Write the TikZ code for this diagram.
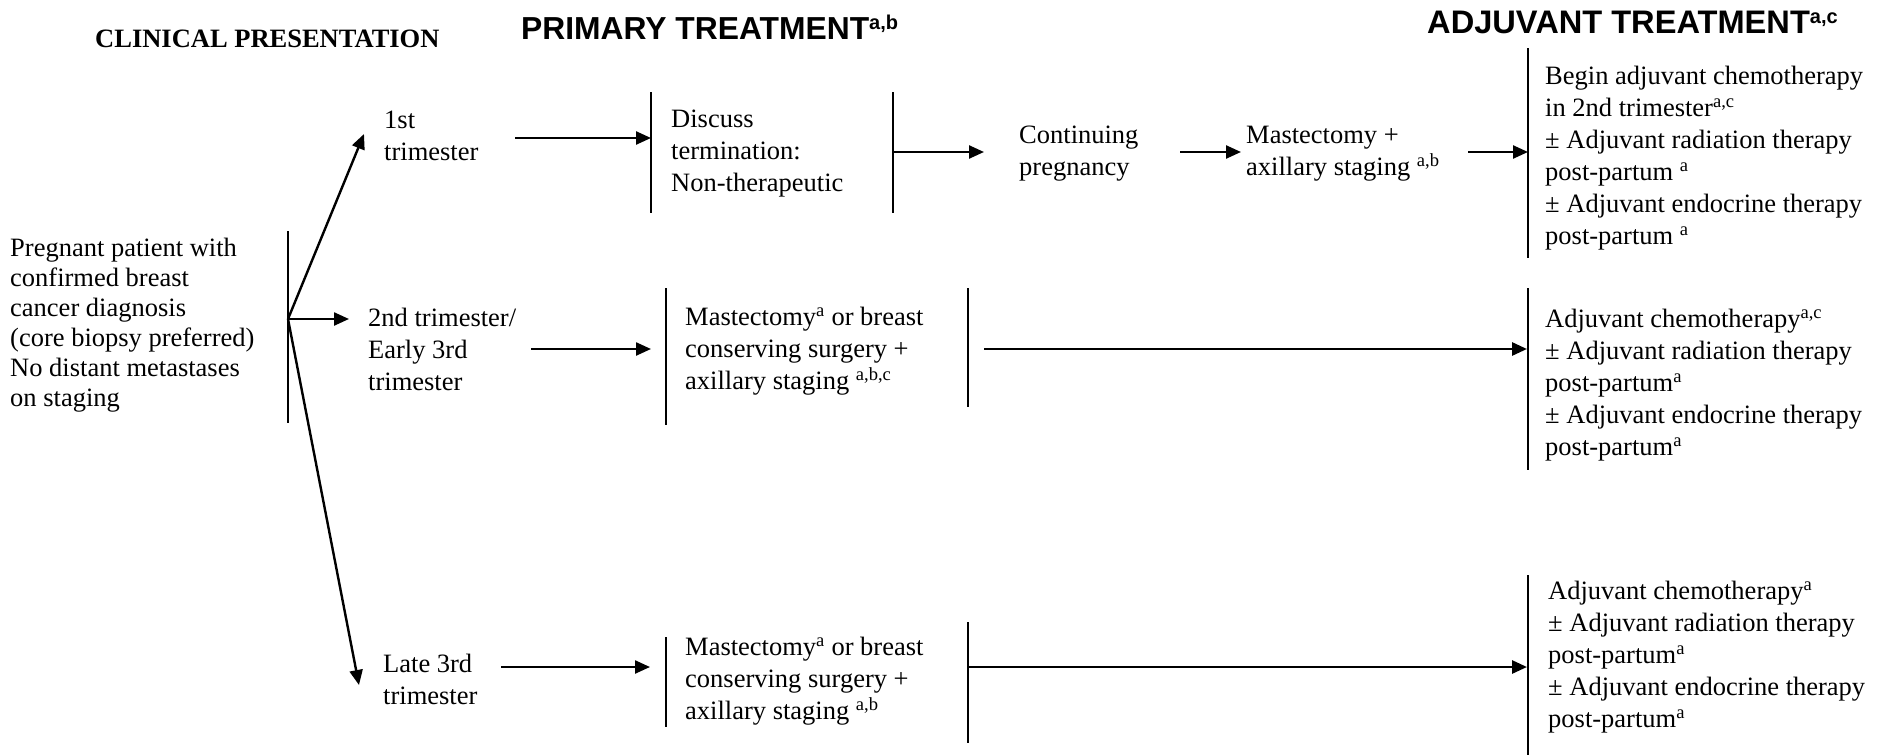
\documentclass[tikz,border=0pt]{standalone}
\usepackage{fontspec}
\setmainfont{Liberation Serif}
\newfontfamily\headsans{Liberation Sans}
\usetikzlibrary{arrows.meta}
\tikzset{
  body/.style={font=\fontsize{26.5}{32}\selectfont, align=left, inner sep=0pt, anchor=west},
  bodytight/.style={font=\fontsize{26.5}{30}\selectfont, align=left, inner sep=0pt, anchor=west},
  headserif/.style={inner sep=0pt, anchor=base west, font=\fontsize{26.5}{32}\selectfont\bfseries},
  headsf/.style={inner sep=0pt, anchor=base west},
  bar/.style={line width=1.3pt},
  arr/.style={line width=2.4pt, -{Triangle[length=15pt,width=13pt]}},
  longarr/.style={line width=2.8pt, -{Triangle[length=15pt,width=13pt]}},
}
\newcommand\hsup[1]{\raisebox{9.5pt}{\fontsize{20}{20}\selectfont #1}}
\begin{document}
\begin{tikzpicture}[x=1pt,y=-1pt]
\useasboundingbox (0,0) rectangle (1879,755);

% headings
\node[headserif] (hclin) at (95,47) {CLINICAL PRESENTATION};
\node[headsf, font=\headsans\bfseries\fontsize{31.8}{36}\selectfont] (hprim) at (521,39) {PRIMARY TREATMENT\hsup{a,b}};
\node[headsf, font=\headsans\bfseries\fontsize{32.6}{36}\selectfont] (hadj) at (1427,33) {ADJUVANT TREATMENT\hsup{a,c}};

% clinical presentation
\node[bodytight] (pres) at (10,325) {Pregnant patient with\\confirmed breast\\cancer diagnosis\\(core biopsy preferred)\\No distant metastases\\on staging};
\coordinate (pbt) at (288,231);
\coordinate (pbb) at (288,423);
\coordinate (br) at (288,319);
\draw[bar] (pbt) -- (pbb);

% trimesters
\node[body] (t1) at (384,136) {1st\\trimester};
\node[body] (t2) at (368,349) {2nd trimester/\\Early 3rd\\trimester};
\node[body] (t3) at (383,679) {Late 3rd\\trimester};
\coordinate (t1in) at (364,134);
\coordinate (t2in) at (349,319);
\coordinate (t3in) at (359,685);
\draw[arr] (br) -- (t1in);
\draw[arr] (br) -- (t2in);
\draw[arr] (br) -- (t3in);

% ---- row 1
\coordinate (r1a) at (515,138);
\coordinate (r1b) at (651,138);
\draw[arr] (r1a) -- (r1b);
\coordinate (d1t) at (651,92);
\coordinate (d1b) at (651,213);
\draw[bar] (d1t) -- (d1b);
\node[body] (disc) at (671,154) {Discuss\\termination:\\Non-therapeutic};
\coordinate (d2t) at (893,92);
\coordinate (d2b) at (893,213);
\draw[bar] (d2t) -- (d2b);
\coordinate (r1c) at (893,152);
\coordinate (r1d) at (984,152);
\draw[arr] (r1c) -- (r1d);
\node[body] (cont) at (1019,154) {Continuing\\pregnancy};
\coordinate (r1e) at (1180,152);
\coordinate (r1f) at (1241,152);
\draw[arr] (r1e) -- (r1f);
\node[body] (mast1) at (1246,154) {Mastectomy +\\axillary staging \textsuperscript{a,b}};
\coordinate (r1g) at (1468,152);
\coordinate (r1h) at (1528,152);
\draw[arr] (r1g) -- (r1h);
\coordinate (a1t) at (1528,48);
\coordinate (a1b) at (1528,258);
\draw[bar] (a1t) -- (a1b);
\node[body] (adj1) at (1545,158) {Begin adjuvant chemotherapy\\in 2nd trimester\textsuperscript{a,c}\\± Adjuvant radiation therapy\\post-partum \textsuperscript{a}\\± Adjuvant endocrine therapy\\post-partum \textsuperscript{a}};

% ---- row 2
\coordinate (r2a) at (531,349);
\coordinate (r2b) at (651,349);
\draw[arr] (r2a) -- (r2b);
\coordinate (m2t) at (666,288);
\coordinate (m2b) at (666,425);
\draw[bar] (m2t) -- (m2b);
\node[body] (mast2) at (685,351.5) {Mastectomy\textsuperscript{a} or breast\\conserving surgery +\\axillary staging \textsuperscript{a,b,c}};
\coordinate (m2rt) at (968,288);
\coordinate (m2rb) at (968,407);
\draw[bar] (m2rt) -- (m2rb);
\coordinate (r2c) at (984,349);
\coordinate (r2d) at (1527,349);
\draw[longarr] (r2c) -- (r2d);
\coordinate (a2t) at (1528,288);
\coordinate (a2b) at (1528,470);
\draw[bar] (a2t) -- (a2b);
\node[body] (adj2) at (1545,385) {Adjuvant chemotherapy\textsuperscript{a,c}\\± Adjuvant radiation therapy\\post-partum\textsuperscript{a}\\± Adjuvant endocrine therapy\\post-partum\textsuperscript{a}};

% ---- row 3
\coordinate (r3a) at (501,667);
\coordinate (r3b) at (650,667);
\draw[arr] (r3a) -- (r3b);
\coordinate (m3t) at (666,637);
\coordinate (m3b) at (666,727);
\draw[bar] (m3t) -- (m3b);
\node[body] (mast3) at (685,681) {Mastectomy\textsuperscript{a} or breast\\conserving surgery +\\axillary staging \textsuperscript{a,b}};
\coordinate (m3rt) at (968,622);
\coordinate (m3rb) at (968,743);
\draw[bar] (m3rt) -- (m3rb);
\coordinate (r3c) at (968,667);
\coordinate (r3d) at (1527,667);
\draw[longarr] (r3c) -- (r3d);
\coordinate (a3t) at (1528,575);
\coordinate (a3b) at (1528,755);
\draw[bar] (a3t) -- (a3b);
\node[body] (adj3) at (1548,657) {Adjuvant chemotherapy\textsuperscript{a}\\± Adjuvant radiation therapy\\post-partum\textsuperscript{a}\\± Adjuvant endocrine therapy\\post-partum\textsuperscript{a}};
\end{tikzpicture}
\end{document}
